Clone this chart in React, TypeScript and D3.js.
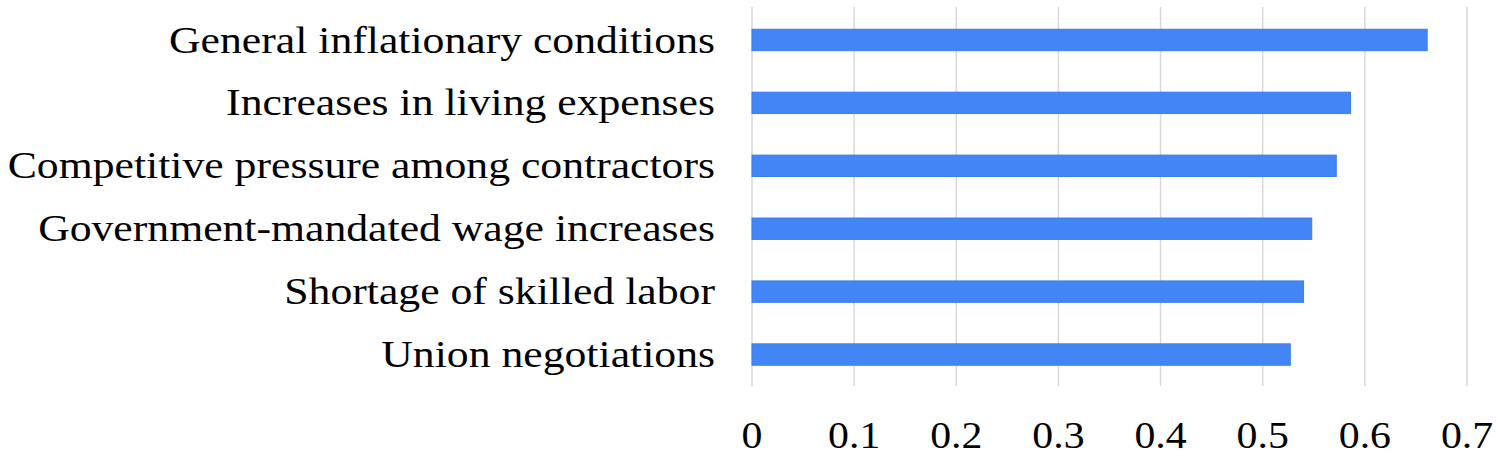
import React from "react";
import * as d3 from "d3";

const categories = [
  "General inflationary conditions",
  "Increases in living expenses",
  "Competitive pressure among contractors",
  "Government-mandated wage increases",
  "Shortage of skilled labor",
  "Union negotiations",
];
const values = [0.661, 0.586, 0.572, 0.548, 0.54, 0.527];
const ticks = [0, 0.1, 0.2, 0.3, 0.4, 0.5, 0.6, 0.7];
const tickLabels = ["0", "0.1", "0.2", "0.3", "0.4", "0.5", "0.6", "0.7"];

const W = 1498;
const H = 458;
const left = 752;
const right = 1467;
const top = 8.5;
const bottom = 386;

export default function App() {
  const x = d3.scaleLinear().domain([0, 0.7]).range([left, right]);
  const y = d3.scaleBand().domain(categories).range([top, bottom]).paddingInner(0.66).paddingOuter(0.33);
  const font = "'Liberation Serif', 'Times New Roman', serif";
  return (
    <svg width={W} height={H} style={{ position: "absolute", left: 0, top: 0, background: "#fff" }}>
      <rect width={W} height={H} fill="#fff" />
      {ticks.map((t, i) => (
        <line key={"g" + i} x1={x(t)} x2={x(t)} y1={7} y2={386} stroke="#d9d9d9" strokeWidth={1.5} />
      ))}
      {categories.map((c, i) => (
        <rect
          key={"b" + i}
          x={x(0)}
          y={y(c)!}
          width={x(values[i]) - x(0)}
          height={y.bandwidth()}
          fill="#4285f4"
          stroke="#3d7ced"
          strokeWidth={1}
        />
      ))}
      {categories.map((c, i) => (
        <g key={"l" + i} transform={`translate(715,${y(c)! + y.bandwidth() / 2}) scale(1.15,1)`}>
          <text dy="0.33em" textAnchor="end" fontFamily={font} fontSize={38} fill="#000">
            {c}
          </text>
        </g>
      ))}
      {ticks.map((t, i) => (
        <g key={"t" + i} transform={`translate(${x(t)},448) scale(1.1,1)`}>
          <text textAnchor="middle" fontFamily={font} fontSize={38} fill="#000">
            {tickLabels[i]}
          </text>
        </g>
      ))}
    </svg>
  );
}
